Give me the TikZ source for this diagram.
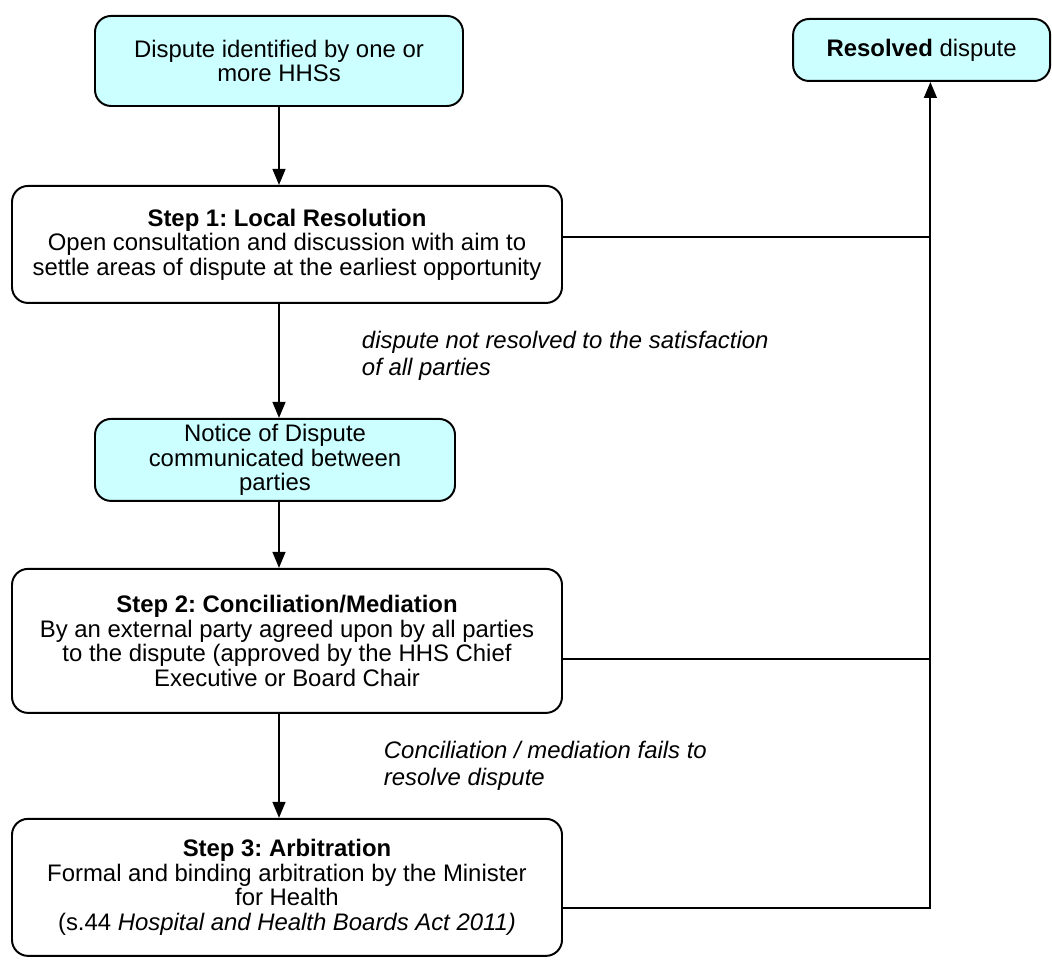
\documentclass[tikz,border=0pt]{standalone}
\usepackage{fontspec}
\setmainfont{Liberation Sans}
\usetikzlibrary{positioning,arrows.meta,calc}
\definecolor{hhsCyan}{HTML}{CCFFFF}
\frenchspacing
\tikzset{
    hhsBox/.style={
        rectangle,
        draw,
        line width=1.4pt,
        rounded corners=0.4cm,
        align=center,
        font=\fontsize{17}{17.5}\selectfont,
        inner sep=2pt
    },
    % Box variants
    hhsStart/.style={hhsBox, fill=hhsCyan},
    hhsStep/.style={hhsBox, fill=white, minimum width=13.75cm},
    % Connectors
    hhsLine/.style={line width=1.4pt},
    hhsArrow/.style={hhsLine, -{Triangle[length=0.4cm,width=0.32cm]}},
    hhsLabel/.style={font=\fontsize{17}{19}\selectfont\itshape, align=left, inner sep=0pt}
}
\begin{document}
\begin{tikzpicture}
\useasboundingbox (0,0) rectangle (26.3,-24.25);
% boxes
\node[hhsStart, anchor=north, minimum width=9.2cm, minimum height=2.25cm] (dis) at (6.975,-0.375) {Dispute identified by one or\\more HHSs};
\node[hhsStart, anchor=north, minimum width=6.425cm, minimum height=1.55cm] (res) at (23.04,-0.45) {\textbf{Resolved} dispute};
\node[hhsStep, minimum height=2.925cm, below=1.95cm of dis, xshift=0.2cm] (s1) {\textbf{Step 1: Local Resolution}\\Open consultation and discussion with aim to\\settle areas of dispute at the earliest opportunity};
\node[hhsStart, minimum width=9cm, minimum height=2.05cm, below=2.85cm of s1, xshift=-0.3cm] (ntc) {Notice of Dispute\\communicated between\\parties};
\node[hhsStep, minimum height=3.6cm, below=1.65cm of ntc, xshift=0.3cm] (s2) {\textbf{Step 2: Conciliation/Mediation}\\By an external party agreed upon by all parties\\to the dispute (approved by the HHS Chief\\Executive or Board Chair};
\node[hhsStep, minimum height=3.425cm, below=2.6cm of s2] (s3) {\textbf{Step 3: Arbitration}\\Formal and binding arbitration by the Minister\\for Health\\(s.44 \textit{Hospital and Health Boards Act 2011)}};
% helper points
\coordinate (jn) at ([xshift=0.22cm]res.south);
\coordinate (s1r) at ([yshift=0.19cm]s1.east);
\coordinate (s2r) at ([yshift=-0.45cm]s2.east);
\coordinate (s3r) at ([yshift=-0.51cm]s3.east);
% downward flow
\draw[hhsArrow] (dis.south) -- (dis.south |- s1.north);
\draw[hhsArrow] (s1.south -| dis.south) -- (ntc.north -| dis.south)
    node[hhsLabel, midway, anchor=west, xshift=2.05cm, yshift=0.12cm] {dispute not resolved to the satisfaction\\of all parties};
\draw[hhsArrow] (ntc.south -| dis.south) -- (s2.north -| dis.south);
\draw[hhsArrow] (s2.south -| dis.south) -- (s3.north -| dis.south)
    node[hhsLabel, midway, anchor=west, xshift=2.6cm] {Conciliation / mediation fails to\\resolve dispute};
% resolution lines
\draw[hhsLine] (s1r) -- (s1r -| jn);
\draw[hhsLine] (s2r) -- (s2r -| jn);
\draw[hhsArrow] (s3r) -| (jn);
\end{tikzpicture}
\end{document}
